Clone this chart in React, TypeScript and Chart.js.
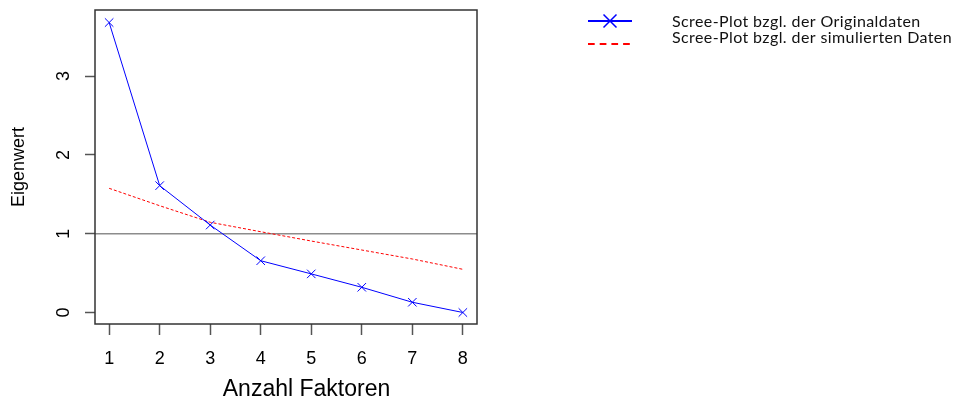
import React, { useEffect, useRef } from "react";
import { Chart, registerables } from "chart.js";

Chart.register(...registerables);

// ---- data ----
const factors = [1, 2, 3, 4, 5, 6, 7, 8];
const originalEigen = [3.68, 1.61, 1.11, 0.657, 0.49, 0.32, 0.13, 0.0];
const simulatedEigen = [1.576, 1.355, 1.145, 1.025, 0.907, 0.793, 0.679, 0.548];
const refLineValue = 1;
const xTicks = [1, 2, 3, 4, 5, 6, 7, 8];
const yTicks = [0, 1, 2, 3];
const seriesLabels = [
  "Scree-Plot bzgl. der Originaldaten",
  "Scree-Plot bzgl. der simulierten Daten",
];
const xTitle = "Anzahl Faktoren";
const yTitle = "Eigenwert";
const xRange = [0.72, 8.28];
const yRange = [-0.146, 3.839];

const AXIS_FONT = "'Liberation Sans', Arial, sans-serif";

const boxPlugin = {
  id: "rBox",
  afterDraw(chart: any) {
    const { ctx, chartArea } = chart;
    ctx.save();
    ctx.strokeStyle = "#333";
    ctx.lineWidth = 1.5;
    ctx.strokeRect(chartArea.left, chartArea.top, chartArea.right - chartArea.left, chartArea.bottom - chartArea.top);
    ctx.restore();
  },
};

const xTitlePlugin = {
  id: "rXTitle",
  afterDraw(chart: any, _a: any, opts: any) {
    const { ctx } = chart;
    ctx.save();
    ctx.fillStyle = "#000";
    ctx.font = `${opts.size}px ${AXIS_FONT}`;
    ctx.textAlign = "center";
    ctx.textBaseline = "alphabetic";
    ctx.fillText(opts.text, opts.x, opts.y);
    ctx.restore();
  },
};

const legendPlugin = {
  id: "rLegend",
  afterDraw(chart: any, _a: any, opts: any) {
    const { ctx } = chart;
    const items = chart.data.datasets.filter((d: any) => d.label);
    ctx.save();
    items.forEach((ds: any, i: number) => {
      const y = opts.lineY[i];
      ctx.strokeStyle = ds.borderColor;
      ctx.lineWidth = opts.lineWidth;
      ctx.setLineDash(ds.borderDash && ds.borderDash.length ? opts.dash : []);
      ctx.beginPath();
      ctx.moveTo(opts.x0, y);
      ctx.lineTo(opts.x1, y);
      ctx.stroke();
      ctx.setLineDash([]);
      if (ds.pointStyle === "crossRot") {
        const cx = (opts.x0 + opts.x1) / 2;
        const r = opts.markSize;
        ctx.lineWidth = 1.5;
        ctx.beginPath();
        ctx.moveTo(cx - r, y - r);
        ctx.lineTo(cx + r, y + r);
        ctx.moveTo(cx - r, y + r);
        ctx.lineTo(cx + r, y - r);
        ctx.stroke();
      }
      ctx.fillStyle = "#111";
      ctx.font = `${opts.fontSize}px ${opts.fontFamily}`;
      try {
        (ctx as any).letterSpacing = opts.letterSpacing;
      } catch (e) {}
      ctx.textAlign = "left";
      ctx.textBaseline = "alphabetic";
      ctx.fillText(ds.label, opts.textX, opts.textY[i]);
    });
    ctx.restore();
  },
};

export default function App() {
  const ref = useRef<HTMLCanvasElement | null>(null);

  useEffect(() => {
    if (!ref.current) return;
    const chart = new Chart(ref.current, {
      type: "line",
      data: {
        datasets: [
          {
            label: seriesLabels[0],
            data: factors.map((f, i) => ({ x: f, y: originalEigen[i] })),
            borderColor: "#0000ff",
            borderWidth: 1,
            pointStyle: "crossRot",
            pointRadius: 6,
            pointBorderWidth: 1,
            pointBorderColor: "#0000ff",
            pointBackgroundColor: "transparent",
            tension: 0,
            fill: false,
          },
          {
            label: seriesLabels[1],
            data: factors.map((f, i) => ({ x: f, y: simulatedEigen[i] })),
            borderColor: "#ff0000",
            borderWidth: 1,
            borderDash: [3, 2],
            pointRadius: 0,
            tension: 0,
            fill: false,
          },
          {
            label: "",
            data: xRange.map((x) => ({ x, y: refLineValue })),
            borderColor: "#8c8c8c",
            borderWidth: 1.5,
            pointRadius: 0,
            fill: false,
          },
        ],
      } as any,
      options: {
        animation: false,
        responsive: false,
        layout: { padding: { top: 10, right: 478, bottom: 0, left: 0 } },
        plugins: {
          legend: { display: false },
          tooltip: { enabled: false },
          rXTitle: { text: xTitle, x: 306.5, y: 396, size: 23 },
          rLegend: {
            x0: 588,
            x1: 632,
            lineY: [21, 44],
            lineWidth: 2,
            dash: [6.7, 5],
            markSize: 6.5,
            textX: 672,
            textY: [26.5, 42.5],
            fontSize: 16,
            letterSpacing: "0.4px",
            fontFamily: "Lato, 'Open Sans', sans-serif",
          },
        } as any,
        scales: {
          x: {
            type: "linear",
            min: xRange[0],
            max: xRange[1],
            afterBuildTicks: (s: any) => {
              s.ticks = xTicks.map((v) => ({ value: v }));
            },
            afterFit: (s: any) => {
              s.height = 77;
              s.paddingLeft = 0;
              s.paddingRight = 0;
              s.paddingTop = 0;
              s.paddingBottom = 0;
            },
            grid: {
              drawOnChartArea: false,
              drawTicks: true,
              tickLength: 11,
              tickColor: "#555",
              tickWidth: 1.5,
            },
            border: { display: false },
            ticks: {
              padding: 13,
              color: "#000",
              font: { family: AXIS_FONT, size: 18 },
              maxRotation: 0,
              callback: (v: any) => String(v),
            },
          },
          y: {
            type: "linear",
            min: yRange[0],
            max: yRange[1],
            afterBuildTicks: (s: any) => {
              s.ticks = yTicks.map((v) => ({ value: v }));
            },
            afterFit: (s: any) => {
              s.width = 95;
              s.paddingTop = 0;
              s.paddingBottom = 0;
              s.paddingLeft = 0;
              s.paddingRight = 0;
            },
            grid: {
              drawOnChartArea: false,
              drawTicks: true,
              tickLength: 10,
              tickColor: "#555",
              tickWidth: 1.5,
            },
            border: { display: false },
            ticks: {
              minRotation: 90,
              maxRotation: 90,
              crossAlign: "center",
              padding: 16,
              color: "#000",
              font: { family: AXIS_FONT, size: 18 },
              callback: (v: any) => String(v),
            },
            title: {
              display: true,
              text: yTitle,
              color: "#000",
              font: { family: AXIS_FONT, size: 18 },
              padding: { top: 8, bottom: 0 },
            },
          },
        },
      } as any,
      plugins: [boxPlugin, xTitlePlugin, legendPlugin],
    });
    return () => chart.destroy();
  }, []);

  return (
    <div style={{ position: "absolute", left: 0, top: 0, width: 955, height: 401, background: "#fff" }}>
      <canvas ref={ref} width={955} height={401} />
    </div>
  );
}
